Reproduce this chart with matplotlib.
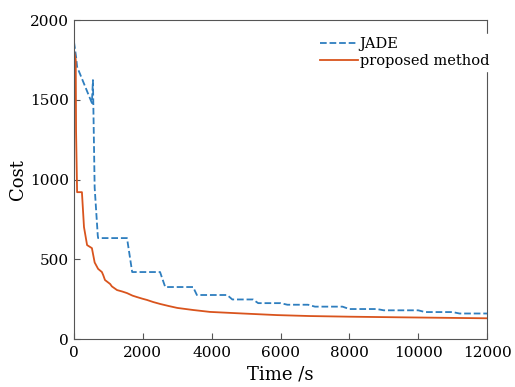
import numpy as np
import matplotlib.pyplot as plt

plt.rcParams['font.family'] = 'DejaVu Serif'

# JADE (blue dashed)
t_jade = [0, 60, 90, 520, 550, 600, 690, 700, 1540, 1690, 2500, 2650, 3460, 3570,
          4450, 4600, 5200, 5350, 6000, 6200, 6800, 7000, 7800, 8000, 8800, 9000,
          10000, 10200, 11000, 11200, 12000]
cost_jade = [1862, 1770, 1707, 1480, 1624, 950, 650, 633, 633, 420, 420, 326, 326, 276,
             276, 248, 248, 225, 225, 215, 215, 203, 203, 188, 188, 180, 180, 169,
             169, 160, 160]

# proposed method (orange solid)
t_prop = [0, 50, 60, 90, 230, 290, 380, 520, 600, 700, 810, 850, 900, 1050, 1100,
          1250, 1400, 1540, 1700, 1830, 2000, 2120, 2300, 2500, 2750, 3000, 3460,
          3950, 4900, 5900, 6860, 8000, 9500, 12000]
cost_prop = [1810, 1750, 1300, 921, 921, 702, 589, 570, 480, 440, 420, 400, 370, 345,
             330, 307, 298, 288, 272, 263, 252, 245, 232, 220, 207, 195, 182,
             170, 160, 150, 144, 140, 136, 130]

fig = plt.figure(figsize=(5.15, 3.87), dpi=100)
ax = fig.add_axes([0.1437, 0.124, 0.802, 0.824])

ax.plot(t_jade, cost_jade, '--', color='#2e7ebf', linewidth=1.3, label='JADE')
ax.plot(t_prop, cost_prop, '-', color='#d9541d', linewidth=1.3, label='proposed method')

ax.set_xlim(0, 12000)
ax.set_ylim(0, 2000)
ax.set_xticks(np.arange(0, 12001, 2000))
ax.set_yticks(np.arange(0, 2001, 500))
ax.tick_params(direction='in', labelsize=11, length=4, color='#555555')
ax.tick_params(axis='x', pad=5)
ax.tick_params(top=False, right=False)
for s in ax.spines.values():
    s.set_color('#555555')
    s.set_linewidth(0.8)

ax.set_xlabel('Time /s', fontsize=13, labelpad=4)
ax.set_ylabel('Cost', fontsize=13, labelpad=2)

leg = ax.legend(loc='upper right', bbox_to_anchor=(1.012, 0.957), frameon=True,
                fontsize=10.5, handlelength=2.6, handletextpad=0.1,
                labelspacing=0.25, borderaxespad=0, borderpad=0.2, fancybox=False)
leg.get_frame().set_edgecolor('white')
leg.get_frame().set_facecolor('white')
leg.get_frame().set_alpha(1)

fig.savefig('out.png', dpi=100)
